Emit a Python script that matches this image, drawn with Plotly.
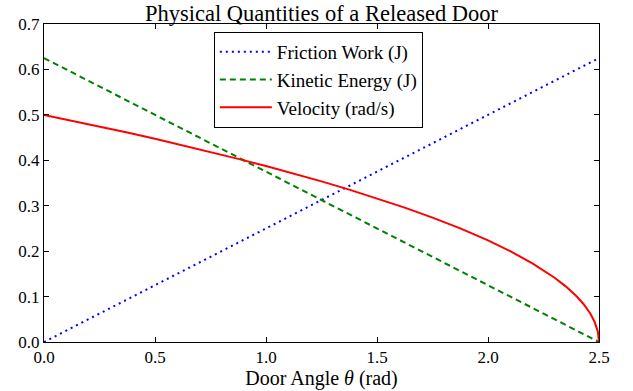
import plotly.graph_objects as go

# Data
angle_lin = [0.0, 2.5]
friction_work = [0.0, 0.625]
kinetic_energy = [0.625, 0.0]

angle_vel = [0.0, 0.125, 0.25, 0.375, 0.5, 0.625, 0.75, 0.875, 1.0, 1.125, 1.25, 1.375,
             1.5, 1.625, 1.75, 1.875, 2.0, 2.1, 2.2, 2.3, 2.35, 2.4, 2.43, 2.46, 2.48,
             2.49, 2.495, 2.5]
velocity = [0.5, 0.4873, 0.4743, 0.4610, 0.4472, 0.4330, 0.4183, 0.4031, 0.3873, 0.3708,
            0.3536, 0.3354, 0.3162, 0.2958, 0.2739, 0.2500, 0.2236, 0.2000, 0.1732, 0.1414,
            0.1225, 0.1000, 0.0837, 0.0632, 0.0447, 0.0316, 0.0224, 0.0]

x_ticks = [0.0, 0.5, 1.0, 1.5, 2.0, 2.5]
y_ticks = [0.0, 0.1, 0.2, 0.3, 0.4, 0.5, 0.6, 0.7]

FONT = "Liberation Serif, Times New Roman, serif"

fig = go.Figure()
fig.add_trace(go.Scatter(x=angle_lin, y=friction_work, mode="lines",
                         name="Friction Work (J)", legendgroup="a",
                         line=dict(color="#0000ff", width=2, dash="2px,4px")))
fig.add_trace(go.Scatter(x=angle_lin, y=kinetic_energy, mode="lines",
                         name="Kinetic Energy (J)", legendgroup="b",
                         line=dict(color="#008000", width=2, dash="6px,4px")))
fig.add_trace(go.Scatter(x=angle_vel, y=velocity, mode="lines",
                         name="Velocity (rad/s)", legendgroup="c",
                         line=dict(color="#ff0000", width=2)))

axis_common = dict(showgrid=False, zeroline=False, showline=True, linecolor="black",
                   linewidth=1, mirror="ticks", ticks="inside", ticklen=5,
                   tickcolor="black", automargin=False,
                   tickfont=dict(family=FONT, size=17, color="black"))

fig.update_layout(
    width=633, height=391,
    margin=dict(l=44, r=34, t=24, b=49),
    paper_bgcolor="white", plot_bgcolor="white",
    font=dict(family=FONT, color="black"),
    title=dict(text="Physical Quantities of a Released Door", x=0.5, xref="paper",
               xanchor="center", y=1, yref="paper", yanchor="bottom", pad=dict(b=3),
               font=dict(family=FONT, size=22.5, color="black")),
    xaxis=dict(range=[0, 2.5], tickvals=x_ticks, ticktext=[f"{v:.1f}" for v in x_ticks],
               title=dict(text="Door Angle <i>θ</i> (rad)", standoff=2,
                          font=dict(family=FONT, size=20, color="black")),
               **axis_common),
    yaxis=dict(range=[0, 0.7], tickvals=y_ticks, ticktext=[f"{v:.1f}" for v in y_ticks],
               **axis_common),
    legend=dict(x=0.306, y=0.975, xanchor="left", yanchor="top",
                bordercolor="black", borderwidth=1, bgcolor="white",
                font=dict(family=FONT, size=19, color="black"),
                tracegroupgap=0, itemwidth=52),
    showlegend=True,
)

fig.write_html("out.html", config={"displayModeBar": False},
               post_script="document.body.style.margin='0';")
